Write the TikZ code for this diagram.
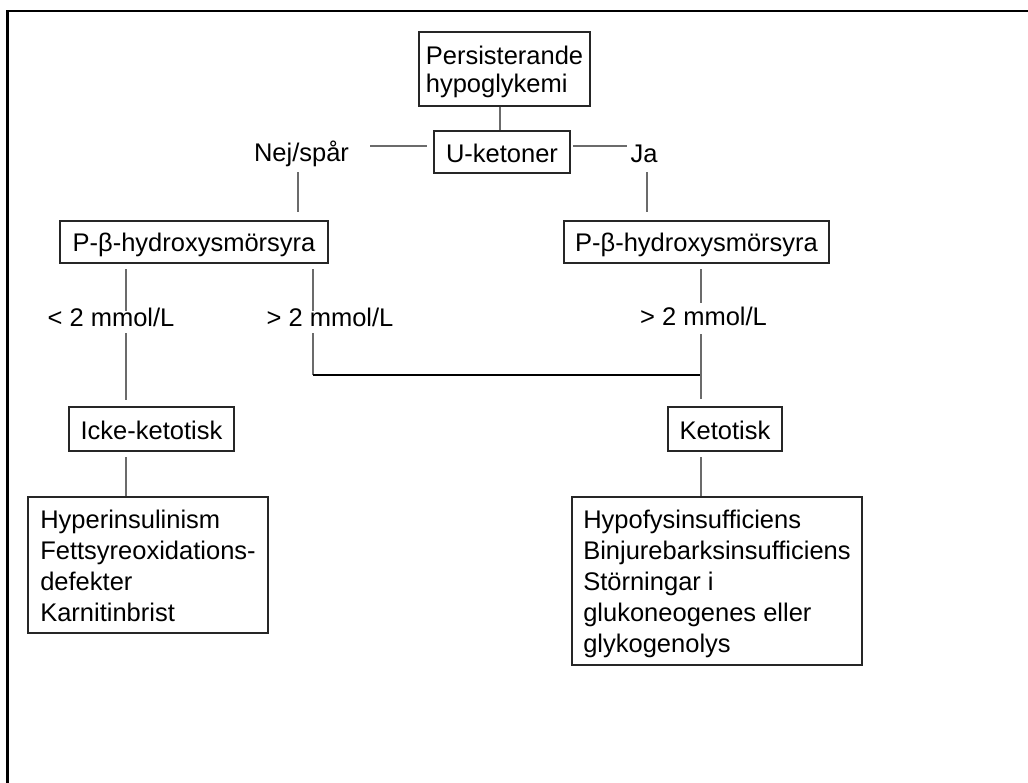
\documentclass[tikz,border=0pt]{standalone}
\usepackage{fontspec}
\setmainfont{Liberation Sans}
\newcommand{\tst}{\rule{0pt}{24pt}}
\newcommand{\bst}{\rule[-4pt]{0pt}{4pt}}
\begin{document}
\begin{tikzpicture}[x=1pt,y=-1pt,
  box/.style={draw=black!85, line width=1.4pt, align=left, inner sep=0pt,
    font=\fontsize{25.5}{31}\selectfont},
  lbl/.style={inner sep=0pt, font=\fontsize{25.5}{31}\selectfont},
  conn/.style={draw=black!58, line width=1.8pt},
  bar/.style={draw=black, line width=1.3pt},
  frame/.style={draw=black, line width=2.4pt}]
\useasboundingbox (0,0) rectangle (1028,782);
\clip (0,0) rectangle (1028,782);
\fill[white] (0,0) rectangle (1028,782);
\draw[frame] (7.5,800) -- (7.5,11) -- (1040,11);

% boxes
\node[box, minimum width=171pt, minimum height=74pt, font=\fontsize{25.5}{28.5}\selectfont] (pers) at (504.5,69) {\tst Persisterande\\hypoglykemi\bst};
\node[box, minimum width=136pt, minimum height=42pt] (uket) at (502,152) {\tst U-ketoner\bst};
\node[box, minimum width=268pt, minimum height=42pt] (pbl) at (194,242) {\tst P-β-hydroxysmörsyra\bst};
\node[box, minimum width=265pt, minimum height=42pt] (pbr) at (696.5,242) {\tst P-β-hydroxysmörsyra\bst};
\node[box, minimum width=165pt, minimum height=44pt] (icke) at (151.5,429) {\tst Icke-ketotisk\bst};
\node[box, minimum width=114pt, minimum height=44pt] (keto) at (725,429) {\tst Ketotisk\bst};
\node[box, minimum width=240pt, minimum height=136pt] (resl) at (148,565) {\tst Hyperinsulinism\\Fettsyreoxidations-\\defekter\\Karnitinbrist\bst};
\node[box, minimum width=290pt, minimum height=168pt] (resr) at (717,581) {\tst Hypofysinsufficiens\\Binjurebarksinsufficiens\\Störningar i\\glukoneogenes eller\\glykogenolys\bst};

% labels
\node[lbl] (nej) at (301.5,152) {\tst Nej/spår\bst};
\node[lbl] (ja) at (644,152) {\tst Ja\bst};
\node[lbl] (lt) at (111,316) {\tst < 2 mmol/L\bst};
\node[lbl] (gtl) at (330,316) {\tst > 2 mmol/L\bst};
\node[lbl] (gtr) at (703.5,315) {\tst > 2 mmol/L\bst};

% coordinates for connector free ends
\coordinate (nejR) at (370,146);
\coordinate (uketL) at (427,146);
\coordinate (uketR) at (573,146);
\coordinate (jaL) at (627,146);
\coordinate (nejB) at (298,172);
\coordinate (pblT) at (298,212);
\coordinate (jaB) at (647,172);
\coordinate (pbrT) at (647,212);
\coordinate (pblB1) at (126,269);
\coordinate (ltT) at (126,311);
\coordinate (pblB2) at (313,269);
\coordinate (gtlT) at (313,311);
\coordinate (pbrB) at (701,269);
\coordinate (gtrT) at (701,303);
\coordinate (ltB) at (126,333);
\coordinate (ickeT) at (126,400);
\coordinate (gtlB) at (313,333);
\coordinate (join) at (313,375);
\coordinate (joinR) at (701,375);
\coordinate (gtrB) at (701,334);
\coordinate (ketoT) at (701,399);
\coordinate (ickeB) at (126,457);
\coordinate (ketoB) at (701,457);

% connectors
\draw[conn] ([xshift=-4.5pt]pers.south) -- ([xshift=-4.5pt]pers.south |- uket.north);
\draw[conn] (nejR) -- (uketL);
\draw[conn] (uketR) -- (jaL);
\draw[conn] (nejB) -- (pblT);
\draw[conn] (jaB) -- (pbrT);
\draw[conn] (pblB1) -- (ltT);
\draw[conn] (pblB2) -- (gtlT);
\draw[conn] (pbrB) -- (gtrT);
\draw[conn] (ltB) -- (ickeT);
\draw[conn] (gtlB) -- (join);
\draw[bar] (join) -- (joinR);
\draw[conn] (gtrB) -- (ketoT);
\draw[conn] (ickeB) -- (ickeB |- resl.north);
\draw[conn] (ketoB) -- (ketoB |- resr.north);
\end{tikzpicture}
\end{document}
